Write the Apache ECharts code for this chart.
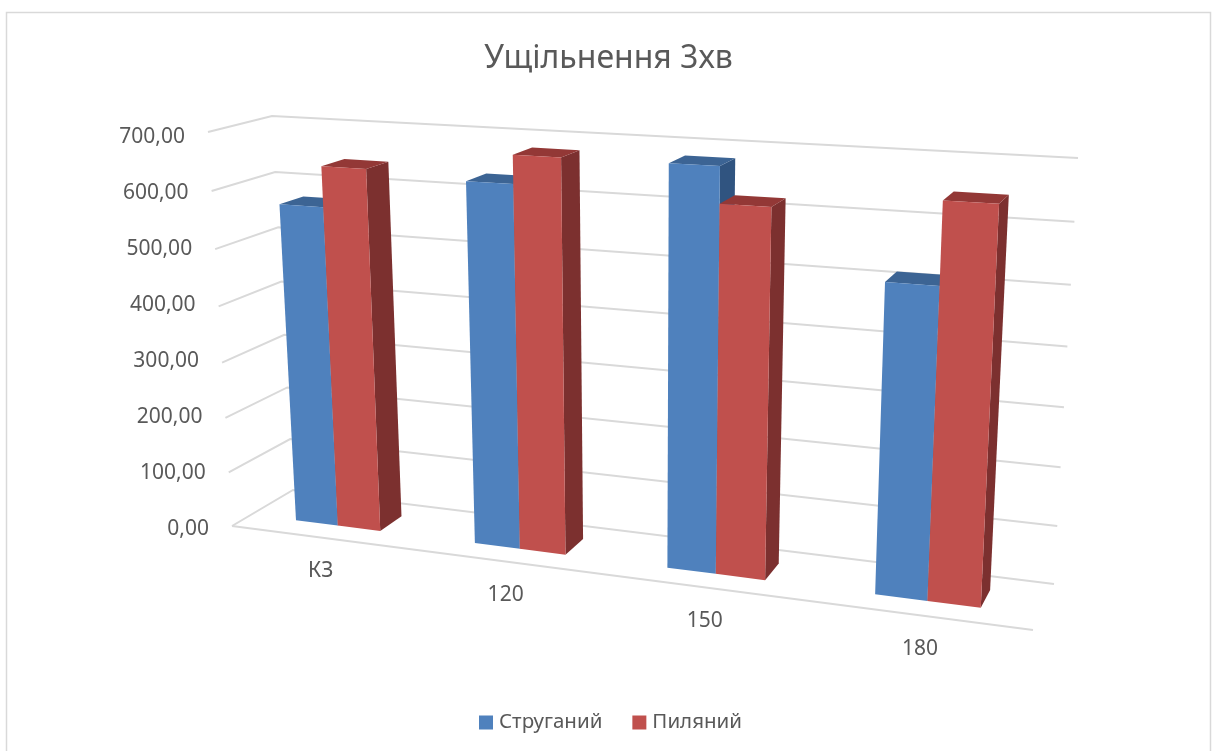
<!DOCTYPE html>
<html><head><meta charset="utf-8">
<style>html,body{margin:0;padding:0;background:#fff}#c{width:1217px;height:751px}</style>
<script src="https://cdn.jsdelivr.net/npm/echarts@6/dist/echarts.min.js"></script>
</head><body><div id="c"></div>
<script>
const titleText = 'Ущільнення 3хв';
const categories = ['КЗ', '120', '150', '180'];
const seriesNames = ['Струганий', 'Пиляний'];
const planed = [572, 632, 681, 515];
const sawn = [642, 680, 621, 648];
const ticks = [0, 100, 200, 300, 400, 500, 600, 700];

const FONT = '"Noto Sans", sans-serif';
const TXT = '#595959';
const GRID = '#D9D9D9';

// Perspective box: corners of the plot volume as seen on the page
const box = {
  floor: { fl: [232, 526], fr: [1033, 630], bl: [293, 490], br: [1054, 584] },
  top:   { fl: [208, 132], fr: [1056, 180], bl: [272, 116], br: [1078, 158] }
};
const persU = 0.86, persS = 0.945;
const WF = 0.32, WB = 0.71, HALF = 0.06;

const lerp = (a, b, t) => a + (b - a) * t;
function project(u, w, s) {
  const f = u * persU / (1 + u * (persU - 1));
  const h = s * persS / (1 + s * (persS - 1));
  const pt = (q, i) => lerp(lerp(q.fl[i], q.fr[i], f), lerp(q.bl[i], q.br[i], f), w);
  return [0, 1].map(i => lerp(pt(box.floor, i), pt(box.top, i), h));
}
const poly = (pts, fill) => ({ type: 'polygon', shape: { points: pts }, style: { fill: fill, stroke: null }, silent: true });

function renderBar(side, colors) {
  return function (params, api) {
    const r = params.coordSys;
    const c = api.coord([api.value(0), 0]);
    const t = api.coord([api.value(0), api.value(1)]);
    const uc = (c[0] - r.x) / r.width;
    const s = (r.y + r.height - t[1]) / r.height;
    const u0 = side === 0 ? uc - HALF : uc;
    const u1 = side === 0 ? uc : uc + HALF;
    const P = (u, w, h) => project(u, w, h);
    return {
      type: 'group',
      children: [
        poly([P(u1, WF, 0), P(u1, WB, 0), P(u1, WB, s), P(u1, WF, s)], colors.side),
        poly([P(u0, WF, s), P(u1, WF, s), P(u1, WB, s), P(u0, WB, s)], colors.top),
        poly([P(u0, WF, 0), P(u1, WF, 0), P(u1, WF, s), P(u0, WF, s)], colors.front)
      ]
    };
  };
}
const lineEl = (pts) => ({ type: 'polyline', shape: { points: pts }, style: { stroke: GRID, lineWidth: 2, fill: null }, silent: true });
function renderTick(params, api) {
  const r = params.coordSys;
  const v = api.value(0);
  const t = api.coord([0, v]);
  const s = (r.y + r.height - t[1]) / r.height;
  const a = project(0, 0, s), b = project(0, 1, s), d = project(1, 1, s);
  return {
    type: 'group',
    children: [
      lineEl([a, b, d]),
      { type: 'text', silent: true, style: { x: a[0] - 23, y: t[1] + 2, text: v.toFixed(2).replace('.', ','), textAlign: 'right', textVerticalAlign: 'middle', fontFamily: FONT, fontSize: 21, fill: TXT } }
    ]
  };
}
function renderFloor(params, api) {
  return lineEl([project(0, 0, 0), project(1, 0, 0)]);
}
function renderCat(params, api) {
  const r = params.coordSys;
  const c = api.coord([api.value(0), 0]);
  const p = project((c[0] - r.x) / r.width, 0, 0);
  return { type: 'text', silent: true, style: { x: p[0] + 1, y: p[1] + 34, text: categories[api.value(0)], textAlign: 'center', textVerticalAlign: 'middle', fontFamily: FONT, fontSize: 21, fill: TXT } };
}

const chart = echarts.init(document.getElementById('c'), null, { renderer: 'canvas' });
chart.setOption({
  animation: false,
  backgroundColor: '#fff',
  title: { text: titleText, left: 'center', top: 38, textStyle: { fontFamily: FONT, fontSize: 32, fontWeight: 'normal', color: TXT } },
  legend: {
    data: seriesNames, left: 479, top: 712, padding: 0, itemWidth: 14, itemHeight: 14, itemGap: 30, icon: 'rect',
    textStyle: { fontFamily: FONT, fontSize: 20.5, color: TXT, padding: [0, 0, 0, 1] }
  },
  grid: { left: 232, top: 135, width: 801, height: 392 },
  xAxis: { type: 'category', data: categories, show: false },
  yAxis: { type: 'value', min: 0, max: 700, interval: 100, show: false },
  graphic: [{ type: 'polyline', silent: true, z: -1, shape: { points: [[6.5, 760], [6.5, 12.5], [1210.5, 12.5], [1210.5, 760]] }, style: { stroke: GRID, lineWidth: 1.5, fill: null } }],
  series: [
    { type: 'custom', name: 'ticks', z: 1, renderItem: renderTick, data: ticks.map(t => [t]) },
    { type: 'custom', name: 'floor', z: 1, renderItem: renderFloor, data: [[0]] },
    { type: 'custom', name: 'cats', z: 1, renderItem: renderCat, data: categories.map((c, i) => [i]) },
    { type: 'custom', name: seriesNames[0], z: 2, itemStyle: { color: '#4F81BD' }, renderItem: renderBar(0, { front: '#4F81BD', top: '#3C6494', side: '#305480' }), data: planed.map((v, i) => [i, v]) },
    { type: 'custom', name: seriesNames[1], z: 3, itemStyle: { color: '#C0504D' }, renderItem: renderBar(1, { front: '#C0504D', top: '#933836', side: '#7C302F' }), data: sawn.map((v, i) => [i, v]) }
  ]
});
</script></body></html>
